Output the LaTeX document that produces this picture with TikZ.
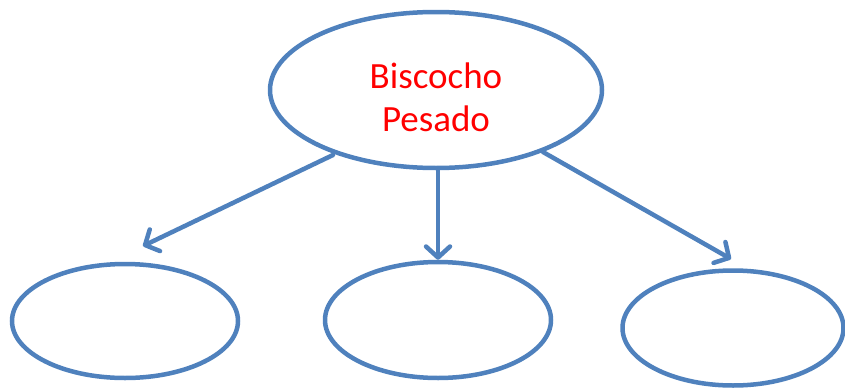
\documentclass[tikz,border=0pt]{standalone}
\usepackage{fontspec}
\setmainfont{Carlito}
\usetikzlibrary{shapes.geometric,arrows.meta}
\definecolor{lineblue}{RGB}{79,129,189}
\tikzset{
  oval/.style={ellipse, draw=lineblue, line width=4.5pt, inner sep=0pt},
  conn/.style={draw=lineblue, line width=4.5pt, line cap=round,
    -{Straight Barb[length=11pt, width=24pt, line width=4.5pt, line cap=round, round]}},
  label text/.style={text=red, font=\fontsize{37}{43}\selectfont, align=center}
}
\begin{document}
\begin{tikzpicture}[x=1pt,y=-1pt]
\useasboundingbox (0,0) rectangle (845,388);
\node[oval, minimum width=332pt, minimum height=156pt] (top) at (436,90) {};
\node[label text] (t) at (436,97) {Biscocho\\Pesado};
\node[oval, minimum width=226pt, minimum height=114pt] (l) at (125,321) {};
\node[oval, minimum width=226pt, minimum height=116pt] (m) at (438,320) {};
\node[oval, minimum width=221pt, minimum height=115pt] (r) at (733,328) {};
\coordinate (s1) at (333,155);
\coordinate (s2) at (438,170);
\coordinate (s3) at (543,152);
\coordinate (e1) at (143,246);
\coordinate (e3) at (731,259);
\draw[conn] (s1) -- (e1);
\draw[conn] (s2) -- (m.north);
\draw[conn] (s3) -- (e3);
\end{tikzpicture}
\end{document}
